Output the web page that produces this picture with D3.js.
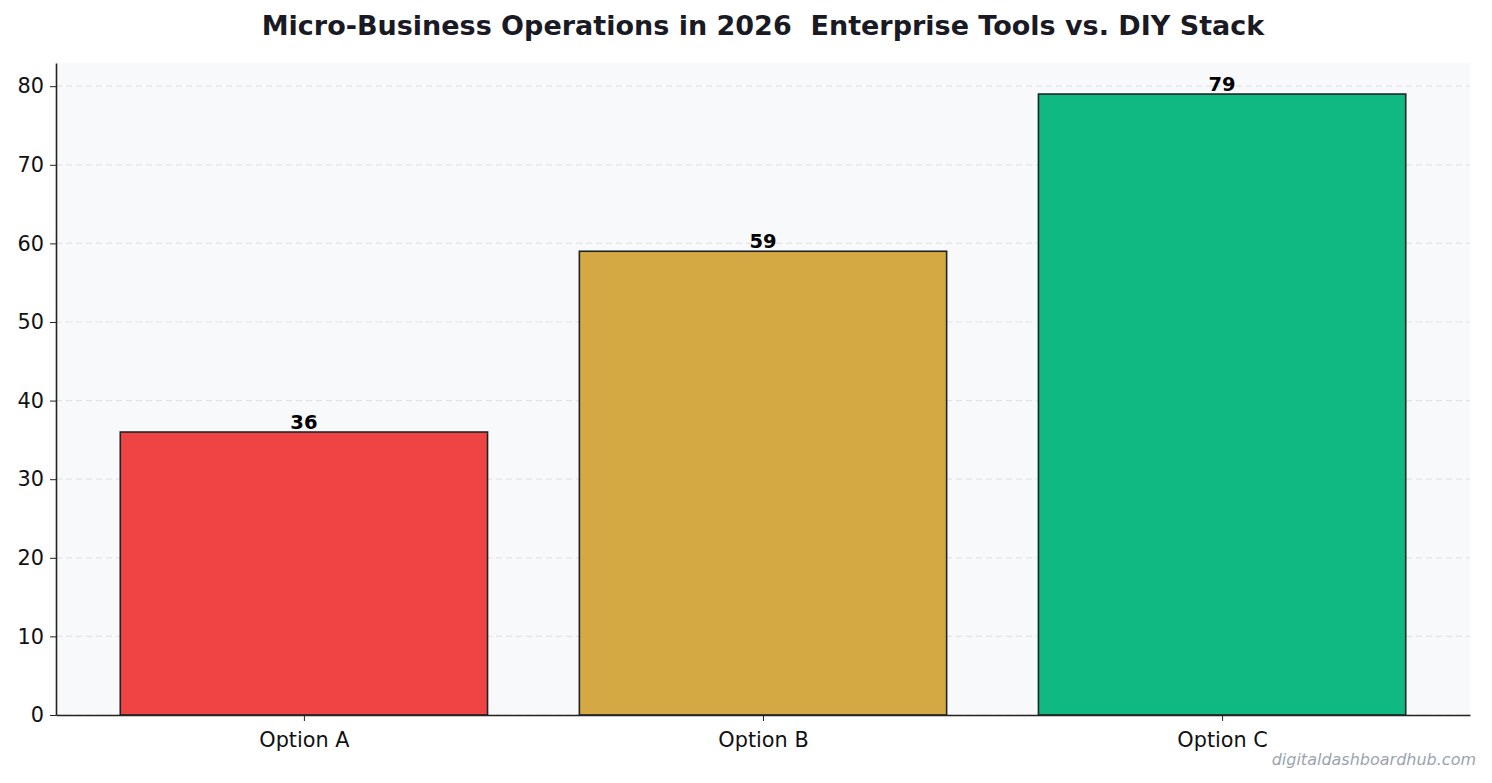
<!DOCTYPE html>
<meta charset="utf-8">
<style>
  body { margin: 0; background: #fff; }
  text { font-family: "DejaVu Sans", sans-serif; }
  .tick text { font-size: 20.8px; fill: #111; }
  .tick line { stroke: #222; }
</style>
<svg width="1492" height="783"></svg>
<script src="https://d3js.org/d3.v7.min.js"></script>
<script>

var categories = ["Option A", "Option B", "Option C"];
var values = [36, 59, 79];
var barColors = ["#ef4444", "#d4a843", "#10b981"];
var yTicks = [0, 10, 20, 30, 40, 50, 60, 70, 80];
var title = "Micro-Business Operations in 2026  Enterprise Tools vs. DIY Stack";

var svg = d3.select("svg"),
  margin = {top: 63, right: 22, bottom: 68, left: 56},
  width = +svg.attr("width") - margin.left - margin.right,
  height = +svg.attr("height") - margin.top - margin.bottom;

// linear x like matplotlib: bars at 0,1,2 with width 0.8
var x = d3.scaleLinear().domain([-0.54, 2.54]).range([0, width]);
var y = d3.scaleLinear().domain([0, 82.95]).range([height, 0]);

var g = svg.append("g").attr("transform", "translate(" + margin.left + "," + margin.top + ")");

g.append("rect")
  .attr("width", width)
  .attr("height", height)
  .attr("fill", "#f8f9fa");

// grid
g.selectAll(".grid")
  .data(yTicks)
  .enter().append("line")
  .attr("x1", 0)
  .attr("x2", width)
  .attr("y1", function(d) { return y(d); })
  .attr("y2", function(d) { return y(d); })
  .attr("stroke", "#e2e4e8")
  .attr("stroke-width", 1.2)
  .attr("stroke-dasharray", "6,4");

g.selectAll(".bar")
  .data(values)
  .enter().append("rect")
  .attr("x", function(d, i) { return x(i - 0.4); })
  .attr("width", function(d, i) { return x(i + 0.4) - x(i - 0.4); })
  .attr("y", function(d) { return y(d); })
  .attr("height", function(d) { return y(0) - y(d); })
  .attr("fill", function(d, i) { return barColors[i]; })
  .attr("stroke", "#1f2328")
  .attr("stroke-width", 1.6);

g.selectAll(".val")
  .data(values)
  .enter().append("text")
  .attr("x", function(d, i) { return x(i); })
  .attr("y", function(d) { return y(d) - 3; })
  .attr("text-anchor", "middle")
  .style("font-size", "19.5px")
  .style("font-weight", "bold")
  .style("fill", "#000")
  .text(function(d) { return d; });

var yAxis = g.append("g")
  .call(d3.axisLeft(y).tickValues(yTicks).tickSize(6).tickSizeOuter(0).tickPadding(6));
yAxis.select(".domain").attr("stroke", "#222").attr("stroke-width", 1.6);

var xAxis = g.append("g")
  .attr("transform", "translate(0," + height + ")")
  .call(d3.axisBottom(x).tickValues([0, 1, 2]).tickFormat(function(d) { return categories[d]; })
    .tickSize(6).tickSizeOuter(0).tickPadding(6));
xAxis.select(".domain").attr("stroke", "#222").attr("stroke-width", 1.6);
xAxis.selectAll(".tick text").attr("dy", "0.95em");

svg.append("text")
  .attr("x", margin.left + width / 2)
  .attr("y", 35)
  .attr("text-anchor", "middle")
  .attr("xml:space", "preserve")
  .style("white-space", "pre")
  .style("font-size", "27px")
  .style("font-weight", "bold")
  .style("fill", "#1a1a24")
  .text(title);

svg.append("text")
  .attr("x", 1476)
  .attr("y", 765)
  .attr("text-anchor", "end")
  .style("font-size", "16px")
  .style("font-style", "italic")
  .style("fill", "#9ca3af")
  .text("digitaldashboardhub.com");

</script>
